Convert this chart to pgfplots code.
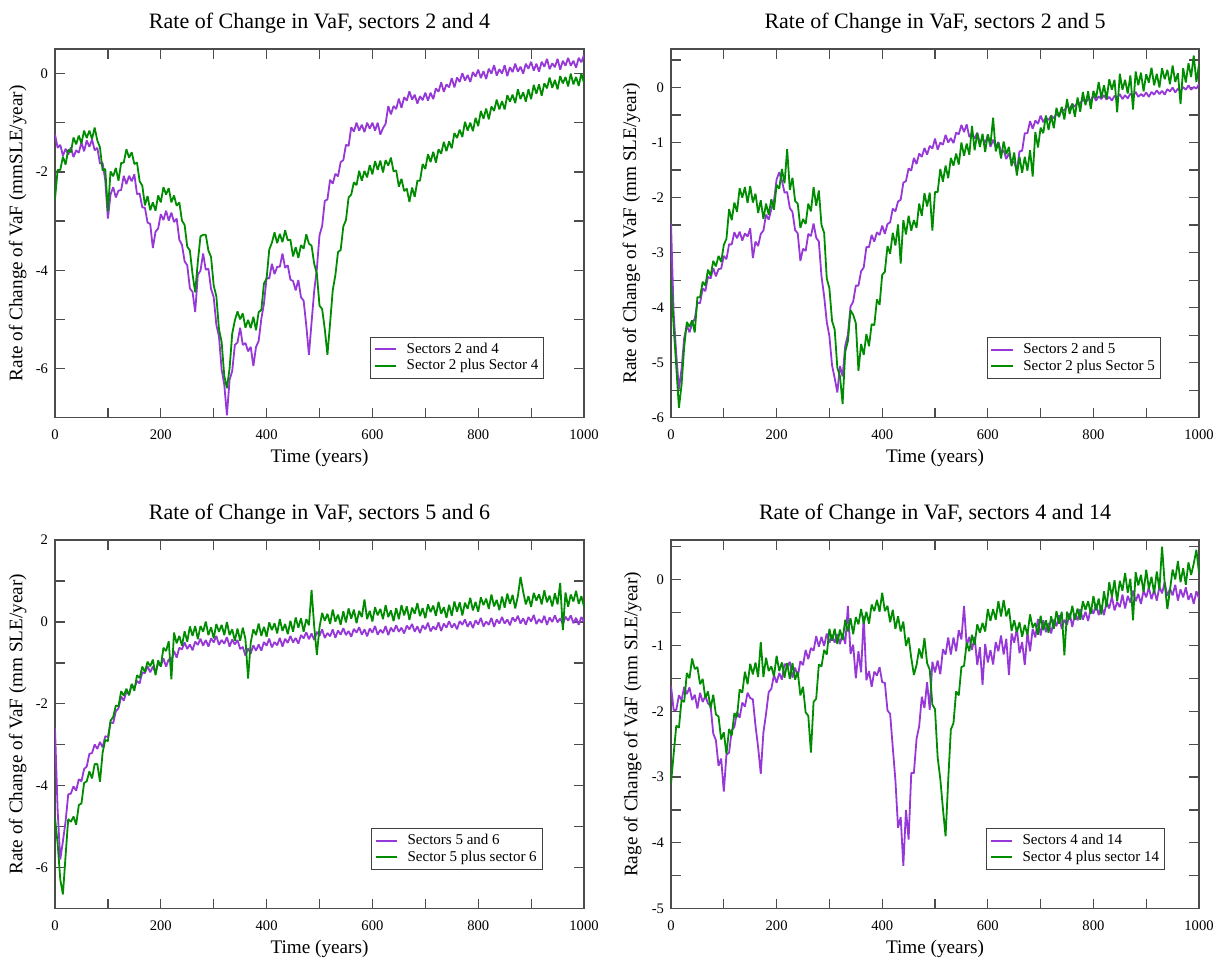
\documentclass[border=0pt]{standalone}
\usepackage{fontspec}
\setmainfont{Liberation Serif}
\usepackage{pgfplots}
\usepackage{pgfplotstable}
\pgfplotsset{compat=1.18}
\definecolor{vpurple}{RGB}{150,55,215}
\definecolor{vgreen}{RGB}{0,140,0}

\pgfplotstableread{
t a b
0 -1.24 -2.55
5 -1.51 -1.96
10 -1.45 -1.96
15 -1.67 -1.69
20 -1.53 -1.85
25 -1.65 -1.55
30 -1.50 -1.60
35 -1.70 -1.30
40 -1.56 -1.44
45 -1.61 -1.26
50 -1.40 -1.42
55 -1.58 -1.16
60 -1.36 -1.31
65 -1.49 -1.16
70 -1.34 -1.33
75 -1.56 -1.10
80 -1.51 -1.36
85 -1.83 -1.50
90 -1.82 -1.97
95 -2.17 -1.94
100 -2.95 -2.80
105 -2.46 -1.99
110 -2.31 -2.09
115 -2.52 -1.92
120 -2.38 -2.18
125 -2.37 -1.82
130 -2.08 -1.81
135 -2.25 -1.54
140 -2.08 -1.71
145 -2.19 -1.60
150 -2.05 -1.84
155 -2.45 -1.81
160 -2.44 -2.19
165 -2.72 -2.28
170 -2.73 -2.68
175 -3.03 -2.49
180 -3.06 -2.78
185 -3.55 -2.62
190 -3.22 -2.79
195 -3.15 -2.48
200 -2.86 -2.62
205 -2.98 -2.31
210 -2.79 -2.46
215 -2.99 -2.33
220 -2.83 -2.62
225 -3.02 -2.48
230 -2.95 -2.69
235 -3.38 -2.62
240 -3.48 -2.99
245 -3.82 -3.08
250 -3.90 -3.52
255 -4.37 -3.60
260 -4.44 -4.08
265 -4.85 -4.45
270 -4.09 -3.83
275 -4.01 -3.31
280 -3.66 -3.28
285 -3.99 -3.28
290 -3.97 -3.60
295 -4.38 -3.73
300 -4.55 -4.31
305 -5.11 -4.53
310 -5.35 -5.20
315 -6.02 -5.46
320 -6.33 -6.15
325 -6.95 -6.40
330 -6.23 -6.00
335 -6.05 -5.29
340 -5.52 -5.02
345 -5.47 -4.84
350 -5.17 -5.00
355 -5.52 -4.88
360 -5.48 -5.17
365 -5.65 -5.01
370 -5.56 -5.18
375 -5.95 -4.95
380 -5.56 -5.22
385 -5.44 -4.85
390 -4.99 -4.81
395 -4.68 -4.27
400 -4.15 -4.17
405 -4.17 -3.58
410 -3.87 -3.44
415 -4.08 -3.23
420 -3.93 -3.45
425 -3.93 -3.26
430 -3.66 -3.43
435 -3.95 -3.19
440 -3.90 -3.39
445 -4.19 -3.38
450 -4.22 -3.72
455 -4.41 -3.53
460 -4.20 -3.75
465 -4.55 -3.49
470 -4.62 -3.56
475 -5.12 -3.27
480 -5.72 -3.46
485 -5.06 -3.50
490 -4.42 -3.87
495 -3.97 -4.07
500 -3.29 -4.72
505 -3.10 -4.79
510 -2.59 -5.20
515 -2.56 -5.72
520 -2.16 -5.08
525 -2.24 -4.41
530 -2.04 -4.10
535 -2.09 -3.63
540 -1.80 -3.59
545 -1.76 -3.11
550 -1.45 -2.98
555 -1.47 -2.52
560 -1.09 -2.46
565 -1.18 -2.21
570 -1.00 -2.27
575 -1.16 -1.98
580 -1.04 -2.18
585 -1.19 -1.98
590 -1.00 -2.11
595 -1.12 -1.86
600 -1.00 -2.05
605 -1.16 -1.78
610 -1.00 -1.96
615 -1.24 -1.77
620 -1.11 -2.01
625 -1.02 -1.76
630 -0.66 -1.87
635 -0.83 -1.71
640 -0.66 -1.99
645 -0.72 -1.97
650 -0.51 -2.30
655 -0.70 -2.14
660 -0.48 -2.39
665 -0.55 -2.34
670 -0.36 -2.61
675 -0.53 -2.32
680 -0.43 -2.51
685 -0.61 -2.18
690 -0.46 -2.18
695 -0.54 -1.84
700 -0.39 -1.94
705 -0.55 -1.64
710 -0.39 -1.80
715 -0.52 -1.59
720 -0.30 -1.81
725 -0.37 -1.54
730 -0.18 -1.63
735 -0.37 -1.39
740 -0.22 -1.58
745 -0.28 -1.38
750 -0.09 -1.52
755 -0.28 -1.21
760 -0.08 -1.31
765 -0.17 -1.14
770 0.01 -1.29
775 -0.14 -0.98
780 -0.03 -1.16
785 -0.17 -1.00
790 0.03 -1.17
795 -0.06 -0.90
800 0.08 -1.07
805 -0.09 -0.76
810 0.05 -0.92
815 -0.11 -0.71
820 0.10 -0.93
825 0.00 -0.67
830 0.17 -0.76
835 -0.04 -0.53
840 0.09 -0.73
845 0.00 -0.56
850 0.17 -0.73
855 -0.05 -0.44
860 0.13 -0.57
865 0.03 -0.43
870 0.20 -0.60
875 0.04 -0.32
880 0.14 -0.52
885 0.00 -0.38
890 0.20 -0.57
895 0.10 -0.32
900 0.24 -0.52
905 0.06 -0.23
910 0.20 -0.41
915 0.04 -0.22
920 0.24 -0.45
925 0.14 -0.20
930 0.30 -0.30
935 0.09 -0.08
940 0.21 -0.29
945 0.13 -0.13
950 0.30 -0.32
955 0.08 -0.05
960 0.26 -0.20
965 0.16 -0.07
970 0.32 -0.26
975 0.16 0.00
980 0.26 -0.22
985 0.12 -0.07
990 0.32 -0.25
995 0.23 0.00
1000 0.38 -0.19
}\dataA

\pgfplotstableread{
t a b
0 -2.47 -3.51
5 -4.10 -4.34
10 -4.85 -5.08
15 -5.49 -5.82
20 -5.11 -5.40
25 -4.55 -4.71
30 -4.33 -4.26
35 -4.45 -4.35
40 -4.29 -4.23
45 -4.20 -4.45
50 -3.91 -3.81
55 -3.92 -3.81
60 -3.65 -3.53
65 -3.70 -3.60
70 -3.44 -3.31
75 -3.47 -3.42
80 -3.28 -3.15
85 -3.43 -3.25
90 -3.30 -3.06
95 -3.29 -3.17
100 -3.06 -2.86
105 -3.12 -2.75
110 -2.85 -2.21
115 -2.85 -2.41
120 -2.63 -2.09
125 -2.74 -2.26
130 -2.62 -1.83
135 -2.78 -2.00
140 -2.65 -1.81
145 -2.71 -2.10
150 -2.56 -1.79
155 -3.10 -2.09
160 -2.80 -1.93
165 -2.88 -2.28
170 -2.66 -2.05
175 -2.60 -2.39
180 -2.31 -2.11
185 -2.40 -2.31
190 -2.21 -2.03
195 -2.06 -2.22
200 -1.67 -1.77
205 -1.54 -1.84
210 -1.69 -1.48
215 -1.91 -1.74
220 -1.90 -1.12
225 -2.19 -1.86
230 -2.26 -1.64
235 -2.59 -2.06
240 -2.65 -2.11
245 -3.15 -2.55
250 -2.93 -2.39
255 -2.97 -2.48
260 -2.66 -2.11
265 -2.70 -2.25
270 -2.47 -1.81
275 -2.73 -2.15
280 -2.80 -1.87
285 -3.43 -2.50
290 -3.79 -2.64
295 -4.26 -3.47
300 -4.52 -3.65
305 -5.05 -4.24
310 -5.28 -4.40
315 -5.54 -5.09
320 -5.06 -5.25
325 -5.25 -5.75
330 -4.69 -4.80
335 -4.49 -4.61
340 -3.98 -4.05
345 -3.89 -4.13
350 -3.60 -4.28
355 -3.60 -5.15
360 -3.34 -4.66
365 -3.27 -4.86
370 -2.90 -4.48
375 -2.90 -4.70
380 -2.68 -4.30
385 -2.80 -4.32
390 -2.63 -3.85
395 -2.68 -3.95
400 -2.51 -3.40
405 -2.66 -3.35
410 -2.48 -2.88
415 -2.45 -3.02
420 -2.20 -2.64
425 -2.25 -2.87
430 -2.07 -2.49
435 -2.04 -3.20
440 -1.73 -2.41
445 -1.70 -2.67
450 -1.47 -2.33
455 -1.51 -2.60
460 -1.28 -2.41
465 -1.39 -2.55
470 -1.20 -2.11
475 -1.26 -2.33
480 -1.10 -1.92
485 -1.22 -2.16
490 -1.06 -1.91
495 -1.11 -2.60
500 -0.93 -1.90
505 -1.13 -1.90
510 -1.00 -1.48
515 -1.04 -1.71
520 -0.86 -1.42
525 -1.00 -1.65
530 -0.92 -1.28
535 -1.01 -1.42
540 -0.82 -1.20
545 -0.85 -1.40
550 -0.68 -1.00
555 -0.81 -1.24
560 -0.67 -1.02
565 -0.90 -1.22
570 -0.83 -0.70
575 -0.93 -1.14
580 -0.82 -0.83
585 -1.01 -1.08
590 -0.92 -0.84
595 -1.01 -1.17
600 -0.87 -0.85
605 -1.08 -1.04
610 -0.95 -0.55
615 -1.08 -1.16
620 -0.99 -1.00
625 -1.17 -1.29
630 -1.14 -0.98
635 -1.30 -1.21
640 -1.19 -1.08
645 -1.37 -1.43
650 -1.35 -1.18
655 -1.52 -1.60
660 -1.16 -1.26
665 -1.15 -1.55
670 -0.83 -1.26
675 -0.83 -1.51
680 -0.61 -1.14
685 -0.75 -1.62
690 -0.60 -0.81
695 -0.66 -1.09
700 -0.51 -0.73
705 -0.63 -0.83
710 -0.55 -0.51
715 -0.59 -0.77
720 -0.51 -0.51
725 -0.56 -0.74
730 -0.48 -0.37
735 -0.52 -0.54
740 -0.40 -0.35
745 -0.42 -0.58
750 -0.33 -0.21
755 -0.39 -0.48
760 -0.30 -0.29
765 -0.35 -0.53
770 -0.26 -0.18
775 -0.29 -0.44
780 -0.21 -0.08
785 -0.28 -0.32
790 -0.21 -0.07
795 -0.23 -0.39
800 -0.15 -0.06
805 -0.24 -0.19
810 -0.16 0.10
815 -0.21 -0.19
820 -0.14 0.04
825 -0.22 -0.21
830 -0.17 0.15
835 -0.24 -0.04
840 -0.15 0.14
845 -0.19 -0.45
850 -0.12 0.25
855 -0.21 -0.04
860 -0.14 0.14
865 -0.20 -0.11
870 -0.11 0.22
875 -0.16 -0.40
880 -0.08 0.29
885 -0.17 0.04
890 -0.12 0.27
895 -0.16 -0.07
900 -0.09 0.24
905 -0.17 0.09
910 -0.08 0.36
915 -0.13 0.04
920 -0.05 0.25
925 -0.12 0.00
930 -0.06 0.35
935 -0.13 0.15
940 -0.03 0.32
945 -0.07 0.06
950 0.00 0.40
955 -0.09 0.10
960 -0.02 0.26
965 -0.08 -0.30
970 0.01 0.35
975 -0.04 0.09
980 0.04 0.44
985 -0.04 0.19
990 0.01 0.58
995 -0.02 0.10
1000 0.06 0.42
}\dataB

\pgfplotstableread{
t a b
0 -2.60 -4.78
5 -4.60 -5.41
10 -5.80 -6.29
15 -5.35 -6.65
20 -4.87 -5.71
25 -4.21 -4.81
30 -4.19 -4.88
35 -4.01 -4.75
40 -4.12 -4.95
45 -3.84 -4.47
50 -3.89 -4.43
55 -3.59 -3.93
60 -3.53 -3.89
65 -3.22 -3.65
70 -3.20 -3.82
75 -2.99 -3.47
80 -3.10 -3.47
85 -2.93 -3.90
90 -3.06 -3.19
95 -2.79 -2.88
100 -2.81 -2.91
105 -2.45 -2.41
110 -2.47 -2.32
115 -2.18 -2.04
120 -2.11 -2.06
125 -1.82 -1.69
130 -1.92 -1.80
135 -1.70 -1.63
140 -1.77 -1.79
145 -1.53 -1.51
150 -1.62 -1.68
155 -1.44 -1.30
160 -1.50 -1.37
165 -1.23 -1.09
170 -1.25 -1.22
175 -1.08 -0.97
180 -1.23 -1.08
185 -1.09 -0.92
190 -1.24 -1.30
195 -1.01 -0.94
200 -1.07 -1.09
205 -0.89 -0.63
210 -1.09 -0.71
215 -0.91 -0.47
220 -0.94 -1.40
225 -0.71 -0.26
230 -0.87 -0.52
235 -0.63 -0.34
240 -0.67 -0.58
245 -0.50 -0.23
250 -0.66 -0.48
255 -0.55 -0.11
260 -0.69 -0.34
265 -0.48 -0.10
270 -0.56 -0.42
275 -0.41 -0.10
280 -0.58 -0.24
285 -0.44 0.01
290 -0.60 -0.32
295 -0.40 -0.13
300 -0.50 -0.40
305 -0.34 -0.05
310 -0.56 -0.24
315 -0.44 -0.07
320 -0.53 -0.32
325 -0.37 0.00
330 -0.60 -0.32
335 -0.43 -0.18
340 -0.55 -0.46
345 -0.44 -0.16
350 -0.66 -0.46
355 -0.61 -0.14
360 -0.82 -0.42
365 -0.65 -1.38
370 -0.77 -0.50
375 -0.57 -0.18
380 -0.70 -0.32
385 -0.55 -0.04
390 -0.70 -0.34
395 -0.49 -0.12
400 -0.58 -0.36
405 -0.41 -0.01
410 -0.62 -0.20
415 -0.49 -0.03
420 -0.57 -0.28
425 -0.39 0.07
430 -0.60 -0.22
435 -0.41 -0.05
440 -0.51 -0.30
445 -0.34 0.03
450 -0.50 -0.24
455 -0.39 0.11
460 -0.53 -0.14
465 -0.32 0.09
470 -0.40 -0.24
475 -0.25 0.07
480 -0.42 -0.08
485 -0.28 0.78
490 -0.44 -0.11
495 -0.24 -0.80
500 -0.34 -0.13
505 -0.18 0.22
510 -0.39 0.03
515 -0.27 0.20
520 -0.35 -0.05
525 -0.18 0.30
530 -0.39 0.01
535 -0.21 0.18
540 -0.31 -0.07
545 -0.15 0.26
550 -0.32 -0.01
555 -0.22 0.33
560 -0.36 0.08
565 -0.17 0.30
570 -0.26 -0.03
575 -0.13 0.27
580 -0.31 0.12
585 -0.18 0.55
590 -0.35 0.07
595 -0.16 0.27
600 -0.26 0.01
605 -0.10 0.36
610 -0.31 0.16
615 -0.19 0.32
620 -0.27 0.07
625 -0.10 0.41
630 -0.32 0.12
635 -0.14 0.28
640 -0.24 0.02
645 -0.08 0.34
650 -0.24 0.07
655 -0.14 0.41
660 -0.28 0.16
665 -0.09 0.38
670 -0.18 0.05
675 -0.05 0.35
680 -0.24 0.20
685 -0.11 0.46
690 -0.27 0.14
695 -0.08 0.34
700 -0.18 0.09
705 -0.02 0.43
710 -0.23 0.24
715 -0.11 0.40
720 -0.19 0.15
725 -0.01 0.49
730 -0.22 0.20
735 -0.04 0.36
740 -0.14 0.10
745 0.02 0.42
750 -0.14 0.15
755 -0.04 0.50
760 -0.18 0.25
765 0.02 0.48
770 -0.07 0.16
775 0.06 0.47
780 -0.12 0.32
785 0.01 0.59
790 -0.15 0.28
795 0.04 0.49
800 -0.06 0.25
805 0.10 0.60
810 -0.11 0.41
815 0.01 0.57
820 -0.07 0.32
825 0.10 0.67
830 -0.12 0.38
835 0.06 0.54
840 -0.04 0.29
845 0.12 0.62
850 -0.04 0.35
855 0.06 0.69
860 -0.08 0.44
865 0.11 0.66
870 0.01 0.33
875 0.15 0.63
880 -0.04 1.10
885 0.09 0.74
890 -0.07 0.43
895 0.12 0.63
900 0.01 0.37
905 0.17 0.71
910 -0.05 0.52
915 0.07 0.68
920 -0.02 0.43
925 0.15 0.77
930 -0.07 0.48
935 0.11 0.64
940 0.00 0.38
945 0.16 0.70
950 -0.01 0.43
955 0.09 0.95
960 -0.06 -0.20
965 0.13 0.72
970 0.03 0.37
975 0.16 0.67
980 -0.03 0.50
985 0.10 0.76
990 -0.07 0.44
995 0.12 0.63
1000 0.01 0.37
}\dataC

\pgfplotstableread{
t a b
0 -1.62 -3.10
5 -1.98 -2.65
10 -1.98 -2.22
15 -1.76 -2.25
20 -1.83 -1.83
25 -1.63 -1.86
30 -1.74 -1.42
35 -1.64 -1.50
40 -1.83 -1.20
45 -1.75 -1.36
50 -1.96 -1.33
55 -1.72 -1.59
60 -1.86 -1.51
65 -1.77 -1.80
70 -1.88 -1.70
75 -1.92 -1.96
80 -2.34 -1.75
85 -2.44 -2.05
90 -2.83 -2.08
95 -2.72 -2.43
100 -3.22 -2.32
105 -2.66 -2.65
110 -2.63 -2.27
115 -2.29 -2.37
120 -2.24 -2.03
125 -2.01 -2.09
130 -2.10 -1.67
135 -1.87 -1.72
140 -1.93 -1.40
145 -1.72 -1.59
150 -1.80 -1.28
155 -1.82 -1.44
160 -2.22 -1.26
165 -2.55 -1.48
170 -2.95 -0.95
175 -2.32 -1.48
180 -2.04 -1.19
185 -1.71 -1.39
190 -1.66 -1.32
195 -1.45 -1.47
200 -1.57 -1.16
205 -1.42 -1.39
210 -1.52 -1.26
215 -1.28 -1.49
220 -1.33 -1.27
225 -1.25 -1.51
230 -1.49 -1.27
235 -1.34 -1.52
240 -1.48 -1.40
245 -1.24 -1.76
250 -1.30 -1.63
255 -1.07 -2.02
260 -1.21 -2.07
265 -1.04 -2.63
270 -1.08 -1.86
275 -0.86 -1.81
280 -1.02 -1.29
285 -0.87 -1.32
290 -1.01 -1.07
295 -0.82 -1.14
300 -0.96 -0.75
305 -0.84 -0.93
310 -0.96 -0.75
315 -0.83 -0.98
320 -0.98 -0.76
325 -0.82 -0.92
330 -0.98 -0.61
335 -0.40 -0.79
340 -1.13 -0.59
345 -0.99 -0.83
350 -1.50 -0.57
355 -1.09 -0.68
360 -1.41 -0.45
365 -0.55 -0.67
370 -1.53 -0.49
375 -1.39 -0.67
380 -1.63 -0.38
385 -1.40 -0.48
390 -1.46 -0.31
395 -1.33 -0.49
400 -1.56 -0.20
405 -1.57 -0.48
410 -1.99 -0.40
415 -2.04 -0.65
420 -2.55 -0.46
425 -3.05 -0.75
430 -3.77 -0.56
435 -3.61 -0.79
440 -4.35 -0.64
445 -3.50 -1.01
450 -3.95 -0.88
455 -2.94 -1.19
460 -2.94 -1.45
465 -2.42 -1.30
470 -2.23 -1.05
475 -1.78 -1.20
480 -1.95 -0.89
485 -1.56 -1.27
490 -1.98 -1.37
495 -1.25 -1.90
500 -1.41 -1.97
505 -1.23 -2.70
510 -1.44 -3.03
515 -1.06 -3.48
520 -1.14 -3.90
525 -0.88 -3.05
530 -1.14 -2.28
535 -0.88 -2.18
540 -1.09 -1.70
545 -0.77 -1.76
550 -0.91 -1.33
555 -0.40 -1.31
560 -1.01 -0.96
565 -0.87 -1.09
570 -1.07 -0.84
575 -0.87 -0.99
580 -1.30 -0.68
585 -1.03 -0.81
590 -1.60 -0.66
595 -0.98 -0.79
600 -1.26 -0.45
605 -1.07 -0.63
610 -1.29 -0.45
615 -0.95 -0.61
620 -1.09 -0.33
625 -0.85 -0.56
630 -1.14 -0.31
635 -0.90 -0.56
640 -1.45 -0.44
645 -0.82 -0.78
650 -0.96 -0.62
655 -0.74 -0.80
660 -1.12 -0.65
665 -0.95 -0.87
670 -1.30 -0.69
675 -0.80 -0.84
680 -1.09 -0.53
685 -0.75 -0.73
690 -0.88 -0.66
695 -0.60 -0.84
700 -0.85 -0.55
705 -0.62 -0.77
710 -0.80 -0.62
715 -0.66 -0.81
720 -0.82 -0.56
725 -0.61 -0.75
730 -0.71 -0.48
735 -0.54 -0.67
740 -0.75 -0.49
745 -0.61 -1.15
750 -0.69 -0.49
755 -0.51 -0.61
760 -0.72 -0.40
765 -0.52 -0.61
770 -0.62 -0.44
775 -0.45 -0.61
780 -0.61 -0.33
785 -0.49 -0.46
790 -0.63 -0.33
795 -0.43 -0.52
800 -0.52 -0.25
805 -0.37 -0.47
810 -0.54 -0.29
815 -0.39 -0.53
820 -0.54 -0.18
825 -0.34 -0.42
830 -0.44 -0.04
835 -0.26 -0.26
840 -0.47 -0.01
845 -0.34 -0.33
850 -0.42 -0.02
855 -0.23 -0.17
860 -0.44 0.10
865 -0.25 -0.20
870 -0.35 0.01
875 -0.17 -0.62
880 -0.33 0.11
885 -0.22 -0.09
890 -0.37 0.07
895 -0.17 -0.19
900 -0.27 0.15
905 -0.12 -0.14
910 -0.30 0.04
915 -0.16 -0.21
920 -0.32 0.12
925 -0.11 -0.15
930 -0.21 0.50
935 -0.04 -0.06
940 -0.25 -0.45
945 -0.14 -0.16
950 -0.24 0.15
955 -0.08 0.00
960 -0.32 0.28
965 -0.15 -0.04
970 -0.27 0.17
975 -0.12 -0.08
980 -0.31 0.26
985 -0.21 0.07
990 -0.37 0.24
995 -0.18 0.45
1000 -0.29 0.10
}\dataD

\pgfplotsset{
  vaf/.style={
    scale only axis,
    xmin=0, xmax=1000,
    xtick={0,200,...,1000},
    minor xtick={100,300,...,900},
    axis line style={draw=black!70, line width=0.7pt},
    every tick/.style={black!70, line width=0.6pt},
    major tick length=4.8pt, minor tick length=4.8pt,
    tick align=inside,
    /pgf/number format/assume math mode=true,
    /pgf/number format/1000 sep={},
    ticklabel style={font=\fontsize{7.3}{8}\selectfont},
    xticklabel style={yshift=-2.5pt},
    xlabel={Time (years)},
    label style={font=\fontsize{9.6}{11}\selectfont},
    xlabel style={at={(axis description cs:0.5,0)}, anchor=center, yshift=-20pt},
    every axis title/.style={at={(axis description cs:0.5,1)}, anchor=center, yshift=13pt, font=\fontsize{11}{13}\selectfont},
    legend cell align=left,
    legend image code/.code={\draw[#1, line width=1pt] (0pt,0pt) -- (10.8pt,0pt);},
    legend style={anchor=south east, draw=black!75, line width=0.6pt,
      font=\fontsize{7.5}{8}\selectfont, inner xsep=1.5pt, inner ysep=2pt,
      nodes={inner xsep=1.2pt, inner ysep=0.8pt},
      /tikz/every odd column/.append style={column sep=3.5pt}},
  },
  pa/.style={vpurple, line width=0.9pt, line join=bevel},
  pb/.style={vgreen, line width=0.9pt, line join=bevel},
}

\begin{document}
\begin{tikzpicture}
\path[use as bounding box] (0pt,0pt) rectangle (609.5pt,479pt);

% top left
\begin{axis}[vaf, at={(27.5pt,270.15pt)}, anchor=south west,
  width=264.5pt, height=184.35pt,
  ymin=-7, ymax=0.5, ytick={-6,-4,-2,0}, minor ytick={-5,-3,-1},
  title={Rate of Change in VaF, sectors 2 and 4},
  ylabel={Rate of Change of VaF (mmSLE/year)},
  ylabel style={at={(axis description cs:-0.0707,0.5)}, anchor=center},
  legend style={at={(0.925,0.105)}}]
\addplot[pa] table[x=t,y=a]{\dataA};
\addlegendentry{Sectors 2 and 4}
\addplot[pb] table[x=t,y=b]{\dataA};
\addlegendentry{Sector 2 plus Sector 4}
\end{axis}

% top right
\begin{axis}[vaf, at={(335.5pt,270.15pt)}, anchor=south west,
  width=264pt, height=184.35pt,
  ymin=-6, ymax=0.7, ytick={-6,-5,...,0}, minor ytick={-5.5,-4.5,...,0.5},
  title={Rate of Change in VaF, sectors 2 and 5},
  ylabel={Rate of Change of VaF (mm SLE/year)},
  ylabel style={at={(axis description cs:-0.0748,0.5)}, anchor=center},
  legend style={at={(0.928,0.104)}}]
\addplot[pa] table[x=t,y=a]{\dataB};
\addlegendentry{Sectors 2 and 5}
\addplot[pb] table[x=t,y=b]{\dataB};
\addlegendentry{Sector 2 plus Sector 5}
\end{axis}

% bottom left
\begin{axis}[vaf, at={(27.5pt,24.65pt)}, anchor=south west,
  width=264.5pt, height=184.35pt,
  ymin=-7, ymax=2, ytick={-6,-4,...,2}, minor ytick={-5,-3,-1,1},
  title={Rate of Change in VaF, sectors 5 and 6},
  ylabel={Rate of Change of VaF (mm SLE/year)},
  ylabel style={at={(axis description cs:-0.0707,0.5)}, anchor=center},
  legend style={at={(0.922,0.104)}}]
\addplot[pa] table[x=t,y=a]{\dataC};
\addlegendentry{Sectors 5 and 6}
\addplot[pb] table[x=t,y=b]{\dataC};
\addlegendentry{Sector 5 plus sector 6}
\end{axis}

% bottom right
\begin{axis}[vaf, at={(335.5pt,24.65pt)}, anchor=south west,
  width=264pt, height=184.35pt,
  ymin=-5, ymax=0.6, ytick={-5,-4,...,0}, minor ytick={-4.5,-3.5,...,0.5},
  title={Rate of Change in VaF, sectors 4 and 14},
  ylabel={Rage of Change of VaF (mm SLE/year)},
  ylabel style={at={(axis description cs:-0.0725,0.5)}, anchor=center},
  legend style={at={(0.936,0.104)}}]
\addplot[pa] table[x=t,y=a]{\dataD};
\addlegendentry{Sectors 4 and 14}
\addplot[pb] table[x=t,y=b]{\dataD};
\addlegendentry{Sector 4 plus sector 14}
\end{axis}
\end{tikzpicture}
\end{document}
